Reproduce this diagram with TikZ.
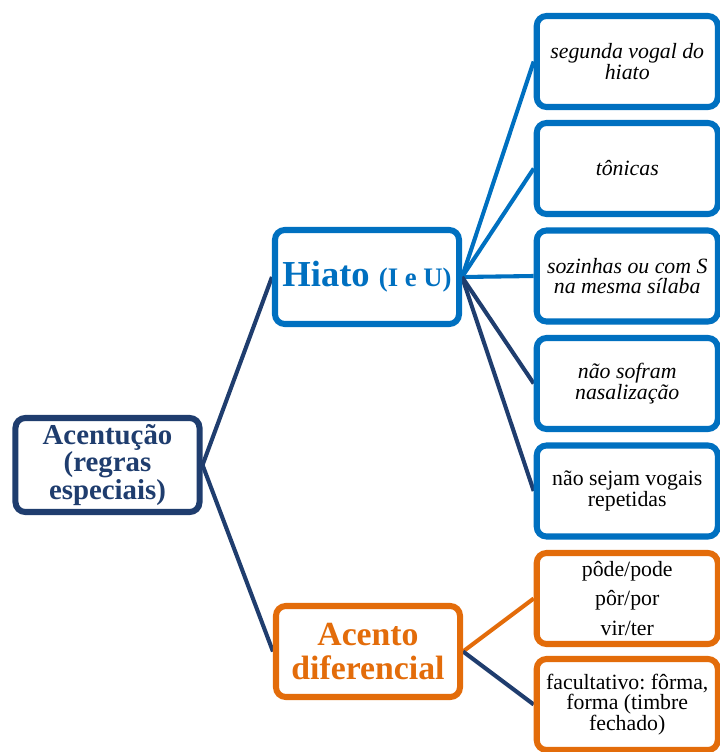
\documentclass[tikz,border=0pt]{standalone}
\usepackage{fontspec}
\setmainfont{Liberation Serif}
\usetikzlibrary{shadows,backgrounds}
\definecolor{navy}{RGB}{31,61,110}
\definecolor{hblue}{RGB}{0,112,192}
\definecolor{dorange}{RGB}{227,108,10}
\frenchspacing

\begin{document}
\begin{tikzpicture}
  [x=0.025cm,y=-0.025cm,
   every node/.style={rectangle,rounded corners=7pt,line width=4.3pt,fill=white,
     align=center,inner sep=2pt,
     drop shadow={shadow xshift=1.2pt,shadow yshift=-1.8pt,opacity=0.25}},
   big/.style={minimum width=4.6cm,minimum height=2.35cm},
   leaf/.style={minimum width=4.525cm,minimum height=2.275cm,
     font=\fontsize{15.5}{14.5}\selectfont},
   leafit/.style={leaf,font=\fontsize{15.5}{14.5}\selectfont\itshape},
   link/.style={line width=2.9pt}]

  \useasboundingbox (0,0) rectangle (720,752);

  \node[big,draw=navy,text=navy,font=\bfseries\fontsize{20.5}{19.6}\selectfont]
    (root) at (107.5,465) {Acentução\\(regras\\especiais)};
  \node[big,draw=hblue,text=hblue,font=\bfseries\fontsize{26}{26}\selectfont]
    (hiato) at (367,277) {Hiato {\fontsize{19}{19}\selectfont(I e U)}};
  \node[big,minimum height=2.275cm,draw=dorange,text=dorange,
    font=\bfseries\fontsize{24}{23.5}\selectfont]
    (acento) at (368,651.5) {Acento\\diferencial};

  \node[leafit,draw=hblue] (h1) at (627.25,61.5) {segunda vogal do\\hiato};
  \node[leafit,draw=hblue] (h2) at (627.25,168.5) {tônicas};
  \node[leafit,draw=hblue] (h3) at (627.25,276) {sozinhas ou com S\\na mesma sílaba};
  \node[leafit,draw=hblue] (h4) at (627.25,383.5) {não sofram\\nasalização};
  \node[leaf,draw=hblue] (h5) at (627.25,491) {não sejam vogais\\repetidas};
  \node[leaf,draw=dorange,font=\fontsize{15.5}{21}\selectfont]
    (a1) at (627.25,598.5) {pôde/pode\\pôr/por\\vir/ter};
  \node[leaf,draw=dorange] (a2) at (627.25,704.5) {facultativo: fôrma,\\forma (timbre\\fechado)};

  \begin{scope}[on background layer]
    \foreach \to in {hiato,acento}
      \draw[link,navy] (root.east) -- (\to.west);
    \foreach \to/\c in {h1/hblue,h2/hblue,h3/hblue,h4/navy,h5/navy}
      \draw[link,\c] (hiato.east) -- (\to.west);
    \foreach \to/\c in {a1/dorange,a2/navy}
      \draw[link,\c] (acento.east) -- (\to.west);
  \end{scope}
\end{tikzpicture}
\end{document}
